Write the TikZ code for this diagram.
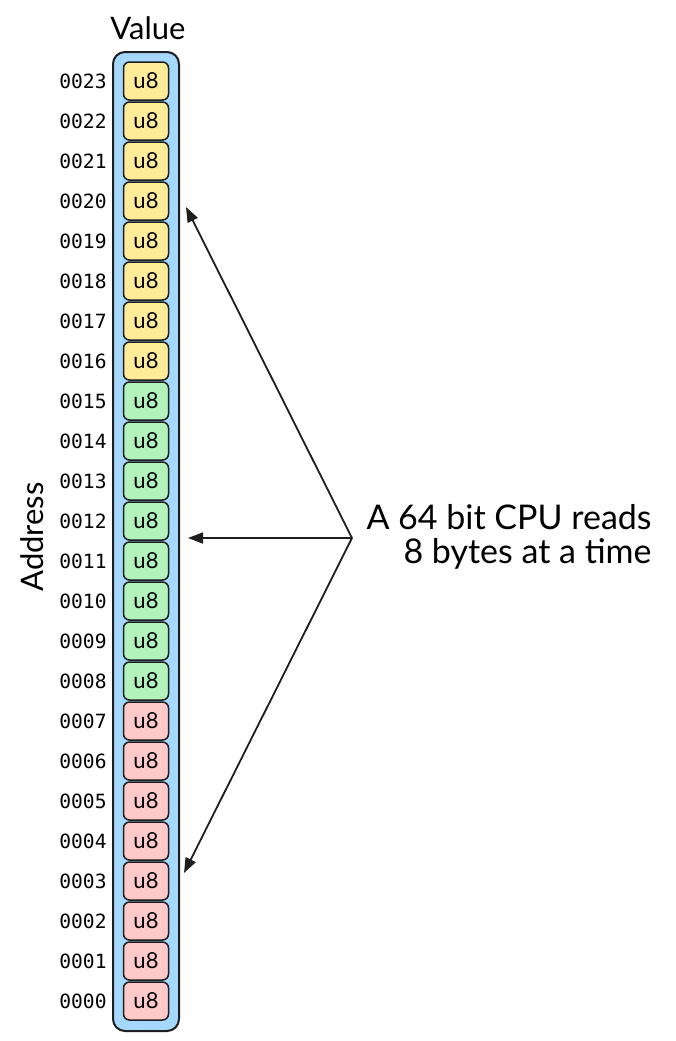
\documentclass[tikz,border=0pt]{standalone}
\usepackage{fontspec}
\usepackage{xcolor}
\usepackage{tikz}
\usetikzlibrary{shapes, arrows.meta, positioning}
\newfontfamily\hand{Lato}
\newfontfamily\mono{DejaVu Sans Mono}
\definecolor{barblue}{HTML}{A5D8FF}
\definecolor{grp0}{HTML}{FFC9C9}
\definecolor{grp1}{HTML}{B2F2BB}
\definecolor{grp2}{HTML}{FFEC99}
\definecolor{ink}{HTML}{1E1E1E}

\begin{document}
\begin{tikzpicture}
  [
    x=0.5pt, y=-0.5pt, >={Triangle[length=7.5pt, width=5.5pt]},
    Bar/.style={rectangle, rounded corners=6pt, draw=ink, fill=barblue, line width=1pt},
    Cell/.style={rectangle, rounded corners=3pt, draw=ink, line width=0.75pt,
      minimum width=22.5pt, minimum height=19pt, inner sep=0pt,
      font=\hand\fontsize{11}{12}\selectfont},
    Addr/.style={anchor=east, inner sep=0pt, font=\mono\fontsize{9.8}{11}\selectfont},
    Title/.style={font=\hand\fontsize{15.5}{17}\selectfont},
    Note/.style={align=right, inner sep=0pt, font=\hand\fontsize{17}{17}\selectfont}
  ]
  \useasboundingbox (0,0) rectangle (676,1041);
  % Bar
  \node[Bar, minimum width=33pt, minimum height=489.5pt] (bar) at(146, 541.5) {};
  \node[Title] (value) at(148, 28) {Value};
  \node[Title, rotate=90] (address) at(32, 537) {Address};
  % Cells
  \foreach \i in {0,...,23} {
    \pgfmathtruncatemacro\grp{\i/8}
    \node[Cell, fill=grp\grp] (c\i) at(146, 1001-40*\i) {u8};
    \node[Addr] (a\i) at(107, 1001-40*\i) {\ifnum\i<10 000\i\else 00\i\fi};
  }
  % Note
  \node[Note, anchor=east] (note) at(652, 537) {A 64 bit CPU reads\\8 bytes at a time};
  \coordinate (src) at(352, 538);
  \coordinate (t20) at(186, 207);
  \coordinate (t12) at(188, 538);
  \coordinate (t3) at(184, 873);
  % Lines
  \path [<-, draw, ink, line width=0.9pt] (t20) -- (src);
  \path [<-, draw, ink, line width=0.9pt] (t12) -- (src);
  \path [<-, draw, ink, line width=0.9pt] (t3) -- (src);
\end{tikzpicture}
\end{document}
